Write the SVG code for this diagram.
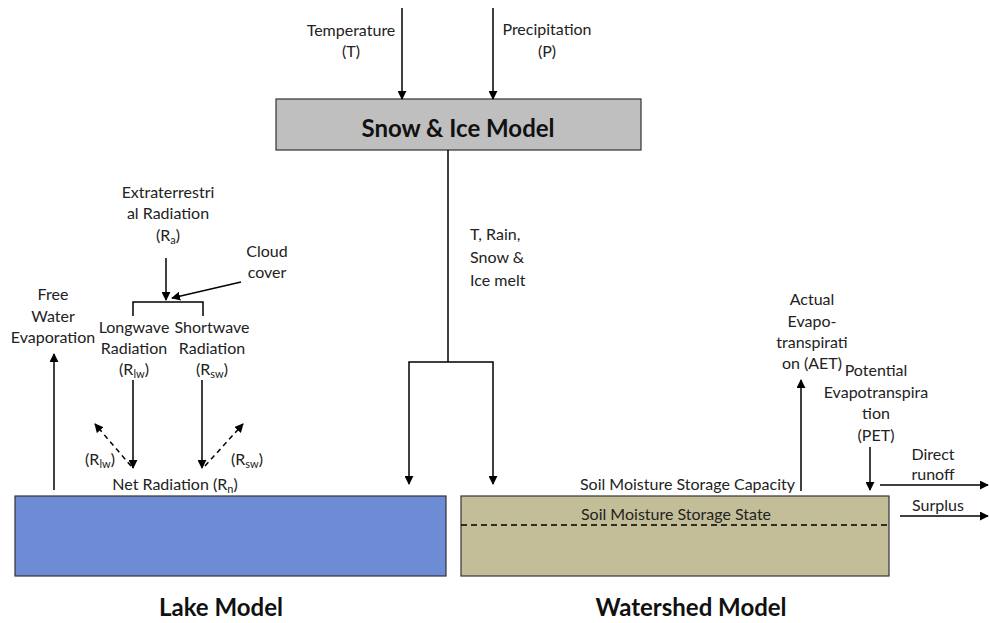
<svg xmlns="http://www.w3.org/2000/svg" width="989" height="623" viewBox="0 0 989 623">
<defs>
<marker id="ah" viewBox="0 0 10 10" refX="9" refY="5" markerWidth="9" markerHeight="9" markerUnits="userSpaceOnUse" orient="auto"><path d="M0,0 L10,5 L0,10 z" fill="#000"/></marker>
</defs>
<style>
text{font-family:Lato,"Open Sans","Liberation Sans",sans-serif;font-size:16px;fill:#222;text-anchor:middle}
.t{font-size:24px;font-weight:bold;fill:#111}
.s{font-size:11px}
.st{text-anchor:start}
.e{text-anchor:end}
.l{stroke:#000;stroke-width:1.5;fill:none}
.a{stroke:#000;stroke-width:1.5;fill:none;marker-end:url(#ah)}
.d{stroke:#000;stroke-width:1.5;fill:none;stroke-dasharray:5,4;marker-end:url(#ah)}
</style>
<rect width="989" height="623" fill="#fff"/>
<g id="snow">
<rect x="276" y="99" width="365" height="51" fill="#bfbfbf" stroke="#333" stroke-width="1.2"/>
<text class="t" x="458" y="137">Snow &amp; Ice Model</text>
</g>
<g id="lake">
<rect x="15" y="496" width="431" height="80" fill="#6e8bd6" stroke="#333" stroke-width="1.2"/>
<text class="t" x="221" y="616">Lake Model</text>
</g>
<g id="watershed">
<rect x="461" y="496" width="428" height="80" fill="#c3be98" stroke="#333" stroke-width="1.2"/>
<line x1="461" y1="525" x2="889" y2="525" stroke="#000" stroke-width="1.3" stroke-dasharray="6,4"/>
<text x="676" y="520">Soil Moisture Storage State</text>
<text class="t" x="691" y="616">Watershed Model</text>
</g>
<g id="labels">
<text x="351" y="36">Temperature</text>
<text x="351" y="57">(T)</text>
<text x="547" y="35">Precipitation</text>
<text x="547" y="57">(P)</text>
<text class="st" x="470" y="240">T, Rain,</text>
<text class="st" x="470" y="263">Snow &amp;</text>
<text class="st" x="470" y="286">Ice melt</text>
<text x="168" y="198">Extraterrestri</text>
<text x="168" y="219">al Radiation</text>
<text x="168" y="241">(R<tspan class="s" dy="3">a</tspan><tspan dy="-3">)</tspan></text>
<text x="267" y="257">Cloud</text>
<text x="267" y="278">cover</text>
<text x="53" y="300">Free</text>
<text x="53" y="322">Water</text>
<text x="53" y="343">Evaporation</text>
<text x="134" y="333">Longwave</text>
<text x="134" y="354">Radiation</text>
<text x="134" y="375">(R<tspan class="s" dy="3">lw</tspan><tspan dy="-3">)</tspan></text>
<text x="212" y="333">Shortwave</text>
<text x="212" y="354">Radiation</text>
<text x="212" y="375">(R<tspan class="s" dy="3">sw</tspan><tspan dy="-3">)</tspan></text>
<text x="100" y="465">(R<tspan class="s" dy="3">lw</tspan><tspan dy="-3">)</tspan></text>
<text x="247" y="465">(R<tspan class="s" dy="3">sw</tspan><tspan dy="-3">)</tspan></text>
<text x="175" y="490">Net Radiation (R<tspan class="s" dy="3">n</tspan><tspan dy="-3">)</tspan></text>
<text x="812" y="305">Actual</text>
<text x="812" y="327">Evapo-</text>
<text x="812" y="348">transpirati</text>
<text x="812" y="369">on (AET)</text>
<text x="876" y="376">Potential</text>
<text x="876" y="398">Evapotranspira</text>
<text x="876" y="419">tion</text>
<text x="876" y="441">(PET)</text>
<text x="933" y="460">Direct</text>
<text x="933" y="480">runoff</text>
<text x="938" y="511">Surplus</text>
<text class="e" x="795" y="490">Soil Moisture Storage Capacity</text>
</g>
<g id="connectors">
<line class="a" x1="402" y1="8" x2="402" y2="99"/>
<line class="a" x1="493" y1="8" x2="493" y2="99"/>
<polyline class="l" points="448,150 448,362"/>
<polyline class="a" points="448,362 409,362 409,484"/>
<polyline class="a" points="448,362 493,362 493,484"/>
<line class="a" x1="54" y1="490" x2="54" y2="354"/>
<line class="a" x1="166" y1="258" x2="166" y2="300"/>
<line class="a" x1="241" y1="282" x2="172" y2="298"/>
<polyline class="l" points="133,316 133,302 203,302 203,316"/>
<line class="a" x1="133" y1="380" x2="133" y2="468"/>
<line class="a" x1="202" y1="380" x2="202" y2="468"/>
<line class="d" x1="131" y1="466" x2="95" y2="424"/>
<line class="d" x1="205" y1="466" x2="243" y2="424"/>
<line class="a" x1="801" y1="491" x2="801" y2="380"/>
<line class="a" x1="870" y1="447" x2="870" y2="490"/>
<line class="a" x1="880" y1="485" x2="988" y2="485"/>
<line class="a" x1="900" y1="516" x2="988" y2="516"/>
</g>
</svg>
